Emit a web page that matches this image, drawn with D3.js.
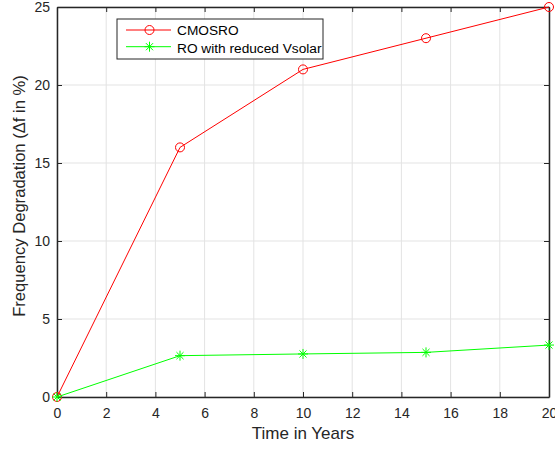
<!DOCTYPE html>
<html>
<head>
<meta charset="utf-8">
<script src="https://cdn.jsdelivr.net/npm/d3@7"></script>
<style>
  body { margin: 0; background: #fff; }
  text { font-family: "Liberation Sans", Arial, sans-serif; }
</style>
</head>
<body>
<div id="chart"></div>
<script>
const years = [0, 5, 10, 15, 20];
const cmosro = [0, 16, 21, 23, 25];
const roReduced = [0, 2.65, 2.76, 2.86, 3.33];
const xTicks = [0, 2, 4, 6, 8, 10, 12, 14, 16, 18, 20];
const yTicks = [0, 5, 10, 15, 20, 25];
const seriesNames = ["CMOSRO", "RO with reduced Vsolar"];

const margin = {top: 7, right: 6, bottom: 52, left: 57},
    width = 555 - margin.left - margin.right,
    height = 449 - margin.top - margin.bottom;

const svg = d3.select("#chart").append("svg")
    .attr("width", 555)
    .attr("height", 449)
  .append("g")
    .attr("transform", "translate(" + margin.left + "," + margin.top + ")");

const x = d3.scaleLinear().domain([0, 20]).range([0, width]);
const y = d3.scaleLinear().domain([0, 25]).range([height, 0]);

const axisColor = "#262626";

// grid
svg.append("g").selectAll("line").data(xTicks).join("line")
  .attr("x1", d => x(d)).attr("x2", d => x(d))
  .attr("y1", 0).attr("y2", height)
  .attr("stroke", "#e3e3e3").attr("stroke-width", 1);
svg.append("g").selectAll("line").data(yTicks).join("line")
  .attr("x1", 0).attr("x2", width)
  .attr("y1", d => y(d)).attr("y2", d => y(d))
  .attr("stroke", "#e3e3e3").attr("stroke-width", 1);

// axes (ticks inside, box)
function styleAxis(g) {
  g.select(".domain").attr("stroke", axisColor).attr("stroke-width", 1.5);
  g.selectAll(".tick line").attr("stroke", axisColor);
  g.selectAll(".tick text").attr("fill", axisColor).style("font-size", "14px")
    .style("font-family", "'Liberation Sans', Arial, sans-serif");
}
svg.append("g")
  .attr("transform", "translate(0," + height + ")")
  .call(d3.axisBottom(x).tickValues(xTicks).tickSizeInner(-5).tickSizeOuter(0).tickPadding(11))
  .call(styleAxis);
svg.append("g")
  .call(d3.axisLeft(y).tickValues(yTicks).tickSizeInner(-5).tickSizeOuter(0).tickPadding(7))
  .call(styleAxis);
svg.append("g")
  .call(d3.axisTop(x).tickValues(xTicks).tickSizeInner(-5).tickSizeOuter(0).tickFormat(""))
  .call(styleAxis);
svg.append("g")
  .attr("transform", "translate(" + width + ",0)")
  .call(d3.axisRight(y).tickValues(yTicks).tickSizeInner(-5).tickSizeOuter(0).tickFormat(""))
  .call(styleAxis);

// axis labels
svg.append("text")
  .attr("x", 303 - margin.left).attr("y", 439 - margin.top)
  .attr("text-anchor", "middle")
  .attr("fill", axisColor).style("font-size", "17px")
  .text("Time in Years");
svg.append("text")
  .attr("transform", "translate(" + (25 - margin.left) + "," + (196 - margin.top) + ") rotate(-90)")
  .attr("text-anchor", "middle")
  .attr("fill", axisColor).style("font-size", "16.6px")
  .text("Frequency Degradation (\u0394f in %)");

const line = d3.line().x((d, i) => x(years[i])).y(d => y(d));

// CMOSRO
svg.append("path").datum(cmosro)
  .attr("fill", "none").attr("stroke", "#ff0000").attr("stroke-width", 1)
  .attr("d", line);
svg.append("g").selectAll("circle").data(cmosro).join("circle")
  .attr("cx", (d, i) => x(years[i])).attr("cy", d => y(d)).attr("r", 4.5)
  .attr("fill", "none").attr("stroke", "#ff0000").attr("stroke-width", 1);

// RO with reduced Vsolar
const green = "#00ff00";
function asterisk(g, cx, cy, r) {
  const p = d3.path();
  p.moveTo(cx - r, cy); p.lineTo(cx + r, cy);
  p.moveTo(cx, cy - r); p.lineTo(cx, cy + r);
  const s = r * 0.707;
  p.moveTo(cx - s, cy - s); p.lineTo(cx + s, cy + s);
  p.moveTo(cx - s, cy + s); p.lineTo(cx + s, cy - s);
  g.append("path").attr("d", p.toString())
    .attr("stroke", green).attr("stroke-width", 1).attr("fill", "none");
}
svg.append("path").datum(roReduced)
  .attr("fill", "none").attr("stroke", green).attr("stroke-width", 1)
  .attr("d", line);
const starG = svg.append("g");
roReduced.forEach((d, i) => asterisk(starG, x(years[i]), y(d), 5));

// legend
const lg = svg.append("g").attr("transform", "translate(" + (117 - margin.left) + "," + (19 - margin.top) + ")");
lg.append("rect").attr("x", 0).attr("y", 0).attr("width", 206).attr("height", 40)
  .attr("fill", "#fff").attr("stroke", axisColor).attr("stroke-width", 1);
lg.append("line").attr("x1", 9).attr("x2", 54).attr("y1", 11).attr("y2", 11)
  .attr("stroke", "#ff0000");
lg.append("circle").attr("cx", 32.5).attr("cy", 11).attr("r", 4.5)
  .attr("fill", "none").attr("stroke", "#ff0000");
lg.append("line").attr("x1", 9).attr("x2", 54).attr("y1", 27.7).attr("y2", 27.7)
  .attr("stroke", green);
asterisk(lg, 32.5, 27.7, 5);
lg.selectAll("text.lbl").data(seriesNames).join("text")
  .attr("class", "lbl")
  .attr("x", 60).attr("y", (d, i) => 16 + i * 17.7)
  .attr("fill", "#000").style("font-size", "13.7px")
  .text(d => d);
</script>
</body>
</html>
